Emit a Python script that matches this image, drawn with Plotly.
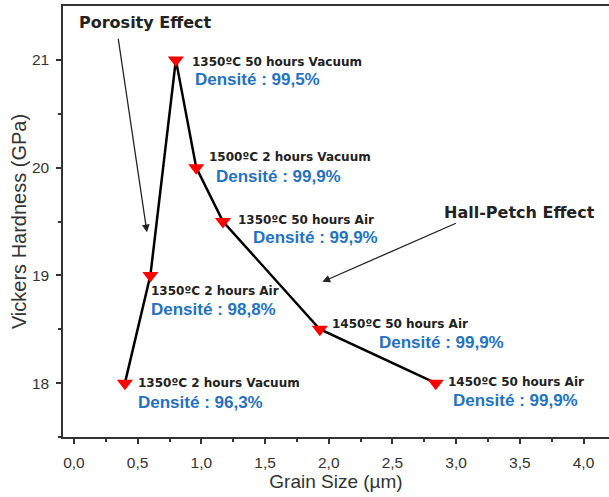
import plotly.graph_objects as go

# ---- data ----
grain_size = [0.4, 0.6, 0.8, 0.96, 1.17, 1.93, 2.84]
hardness = [18.0, 19.0, 21.0, 20.0, 19.5, 18.5, 18.0]
conditions = ["1350ºC 2 hours Vacuum", "1350ºC 2 hours Air", "1350ºC 50 hours Vacuum",
              "1500ºC 2 hours Vacuum", "1350ºC 50 hours Air", "1450ºC 50 hours Air",
              "1450ºC 50 hours Air"]
densities = ["Densité : 96,3%", "Densité : 98,8%", "Densité : 99,5%", "Densité : 99,9%",
             "Densité : 99,9%", "Densité : 99,9%", "Densité : 99,9%"]
x_ticks = [0.0, 0.5, 1.0, 1.5, 2.0, 2.5, 3.0, 3.5, 4.0]
x_ticklabels = ["0,0", "0,5", "1,0", "1,5", "2,0", "2,5", "3,0", "3,5", "4,0"]
x_minor = [0.25, 0.75, 1.25, 1.75, 2.25, 2.75, 3.25, 3.75]
y_ticks = [18, 19, 20, 21]
y_ticklabels = ["18", "19", "20", "21"]
y_minor = [17.5, 18.5, 19.5, 20.5]

# ---- label offsets (pixels) ----
cond_shift = [(11, 0), (-1, -16), (14, -2), (11, 11), (13, 2), (10, 5), (10, 1)]
dens_shift = [(11, -19), (-1, -34), (17, -20), (18, -9), (28, -16), (57, -13), (15, -17)]

AX = "#333333"
BLUE = "#1f72c4"

fig = go.Figure()
fig.add_trace(go.Scatter(
    x=grain_size, y=hardness, mode="lines+markers",
    line=dict(color="black", width=2.5),
    marker=dict(symbol="triangle-down", size=14, color="#ff0000", line=dict(width=0)),
    showlegend=False, hoverinfo="skip"))

ann = []
for x, y, c, d, cs, ds in zip(grain_size, hardness, conditions, densities, cond_shift, dens_shift):
    ann.append(dict(x=x, y=y, xref="x", yref="y", text="<b>%s</b>" % c, showarrow=False,
                    xanchor="left", yanchor="middle", xshift=cs[0], yshift=cs[1],
                    font=dict(family="DejaVu Sans", size=12, color="#222222")))
    ann.append(dict(x=x, y=y, xref="x", yref="y", text="<b>%s</b>" % d, showarrow=False,
                    xanchor="left", yanchor="middle", xshift=ds[0], yshift=ds[1],
                    font=dict(family="Liberation Sans", size=17, color=BLUE)))

# effect labels and arrows
ann.append(dict(x=0.56, y=21.35, xref="x", yref="y", text="<b>Porosity Effect</b>",
                showarrow=False, font=dict(family="DejaVu Sans", size=16, color="#222222")))
ann.append(dict(x=0.573, y=19.40, ax=0.346, ay=21.21, xref="x", yref="y", axref="x", ayref="y",
                text="", showarrow=True, arrowhead=2, arrowsize=1.2, arrowwidth=1.3,
                arrowcolor="#222222"))
ann.append(dict(x=3.50, y=19.58, xref="x", yref="y", text="<b>Hall-Petch Effect</b>",
                showarrow=False, font=dict(family="DejaVu Sans", size=16, color="#222222")))
ann.append(dict(x=1.95, y=18.94, ax=3.01, ay=19.49, xref="x", yref="y", axref="x", ayref="y",
                text="", showarrow=True, arrowhead=2, arrowsize=1.2, arrowwidth=1.3,
                arrowcolor="#222222"))

fig.update_layout(
    width=609, height=497,
    margin=dict(l=63, r=0, t=6, b=60),
    paper_bgcolor="white", plot_bgcolor="white",
    annotations=ann,
    xaxis=dict(
        range=[-0.086, 4.2], showline=True, linecolor=AX, linewidth=1.5, mirror=True,
        ticks="outside", ticklen=5, tickwidth=1.5, tickcolor=AX,
        tickvals=x_ticks, ticktext=x_ticklabels, ticklabelstandoff=6,
        tickfont=dict(family="Liberation Sans", size=15.5, color=AX),
        minor=dict(ticks="outside", ticklen=3, tickwidth=1.5, tickcolor=AX, tickvals=x_minor),
        showgrid=False, zeroline=False,
        title=dict(text="Grain Size (µm)", standoff=4,
                   font=dict(family="Liberation Sans", size=19, color=AX))),
    yaxis=dict(
        range=[17.5, 21.5], showline=True, linecolor=AX, linewidth=1.5,
        ticks="outside", ticklen=5, tickwidth=1.5, tickcolor=AX,
        tickvals=y_ticks, ticktext=y_ticklabels, ticklabelstandoff=4,
        tickfont=dict(family="Liberation Sans", size=15.5, color=AX),
        minor=dict(ticks="outside", ticklen=3, tickwidth=1.5, tickcolor=AX, tickvals=y_minor),
        showgrid=False, zeroline=False,
        title=dict(text="Vickers Hardness (GPa)", standoff=0,
                   font=dict(family="Liberation Sans", size=20, color=AX))),
)

fig.write_html("out.html", config={"displayModeBar": False},
               post_script="document.body.style.margin='0';document.body.style.padding='0';")
